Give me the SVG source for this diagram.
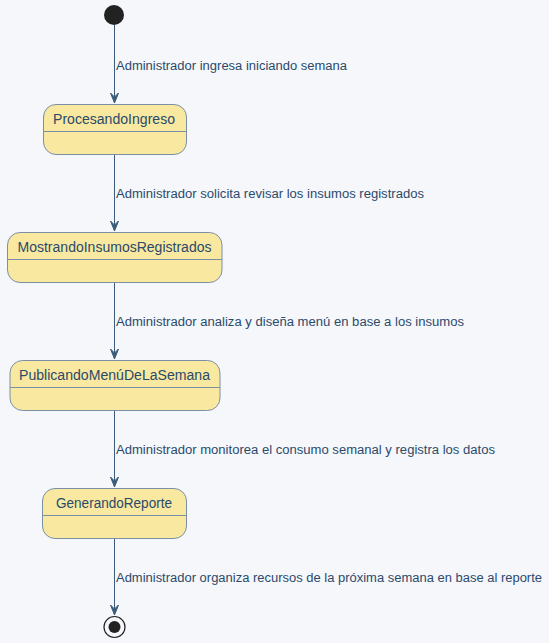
<svg xmlns="http://www.w3.org/2000/svg" width="549" height="643" viewBox="0 0 549 643">
<style>
.bg{fill:#f5f7fb}
.st{fill:#f8e8a0;stroke:#7b8fa6;stroke-width:1}
.div{stroke:#7b8fa6;stroke-width:1}
.name{font-family:"Liberation Sans",Arial,sans-serif;font-size:14px;fill:#2b4a6b;text-anchor:middle}
.lbl{font-family:"Liberation Sans",Arial,sans-serif;font-size:12px;fill:#2b4a6b}
.edge{stroke:#3a5b7c;stroke-width:1;fill:none}
.ah{fill:#3a5b7c;stroke:#3a5b7c}
</style>
<rect class="bg" x="0" y="0" width="549" height="643"/>
<g id="start"><circle cx="114" cy="15" r="10" fill="#222222"/></g>
<g id="ProcesandoIngreso">
<rect class="st" x="43.5" y="104.5" width="143" height="50" rx="12.5"/>
<line class="div" x1="43.5" y1="131.5" x2="186.5" y2="131.5"/>
<text class="name" x="114" y="124" textLength="122" lengthAdjust="spacingAndGlyphs">ProcesandoIngreso</text>
</g>
<g id="MostrandoInsumosRegistrados">
<rect class="st" x="7.5" y="232.5" width="214.5" height="50" rx="12.5"/>
<line class="div" x1="7.5" y1="259.5" x2="222" y2="259.5"/>
<text class="name" x="114.5" y="252" textLength="194" lengthAdjust="spacingAndGlyphs">MostrandoInsumosRegistrados</text>
</g>
<g id="PublicandoMenuDeLaSemana">
<rect class="st" x="10" y="360.5" width="210" height="50" rx="12.5"/>
<line class="div" x1="10" y1="387.5" x2="220" y2="387.5"/>
<text class="name" x="114.5" y="380" textLength="191" lengthAdjust="spacingAndGlyphs">PublicandoMenúDeLaSemana</text>
</g>
<g id="GenerandoReporte">
<rect class="st" x="42.5" y="488.5" width="144" height="50" rx="12.5"/>
<line class="div" x1="42.5" y1="515.5" x2="186.5" y2="515.5"/>
<text class="name" x="114" y="508" textLength="116" lengthAdjust="spacingAndGlyphs">GenerandoReporte</text>
</g>
<g id="end">
<circle cx="114.5" cy="627" r="10.5" fill="none" stroke="#222222" stroke-width="1.2"/>
<circle cx="114.5" cy="627" r="6" fill="#222222"/>
</g>
<g id="connectors">
<line class="edge" x1="114.5" y1="25" x2="114.5" y2="103"/>
<polygon class="ah" points="114.5,103 110.5,93 114.5,97 118.5,93"/>
<text class="lbl" x="116" y="70" textLength="231" lengthAdjust="spacingAndGlyphs">Administrador ingresa iniciando semana</text>
<line class="edge" x1="114.5" y1="155" x2="114.5" y2="231"/>
<polygon class="ah" points="114.5,231 110.5,221 114.5,225 118.5,221"/>
<text class="lbl" x="116" y="198" textLength="308" lengthAdjust="spacingAndGlyphs">Administrador solicita revisar los insumos registrados</text>
<line class="edge" x1="114.5" y1="283" x2="114.5" y2="359"/>
<polygon class="ah" points="114.5,359 110.5,349 114.5,353 118.5,349"/>
<text class="lbl" x="116" y="326" textLength="348" lengthAdjust="spacingAndGlyphs">Administrador analiza y diseña menú en base a los insumos</text>
<line class="edge" x1="114.5" y1="411" x2="114.5" y2="487"/>
<polygon class="ah" points="114.5,487 110.5,477 114.5,481 118.5,477"/>
<text class="lbl" x="116" y="454" textLength="379" lengthAdjust="spacingAndGlyphs">Administrador monitorea el consumo semanal y registra los datos</text>
<line class="edge" x1="114.5" y1="539" x2="114.5" y2="615"/>
<polygon class="ah" points="114.5,615 110.5,605 114.5,609 118.5,605"/>
<text class="lbl" x="116" y="582" textLength="426" lengthAdjust="spacingAndGlyphs">Administrador organiza recursos de la próxima semana en base al reporte</text>
</g>
</svg>
